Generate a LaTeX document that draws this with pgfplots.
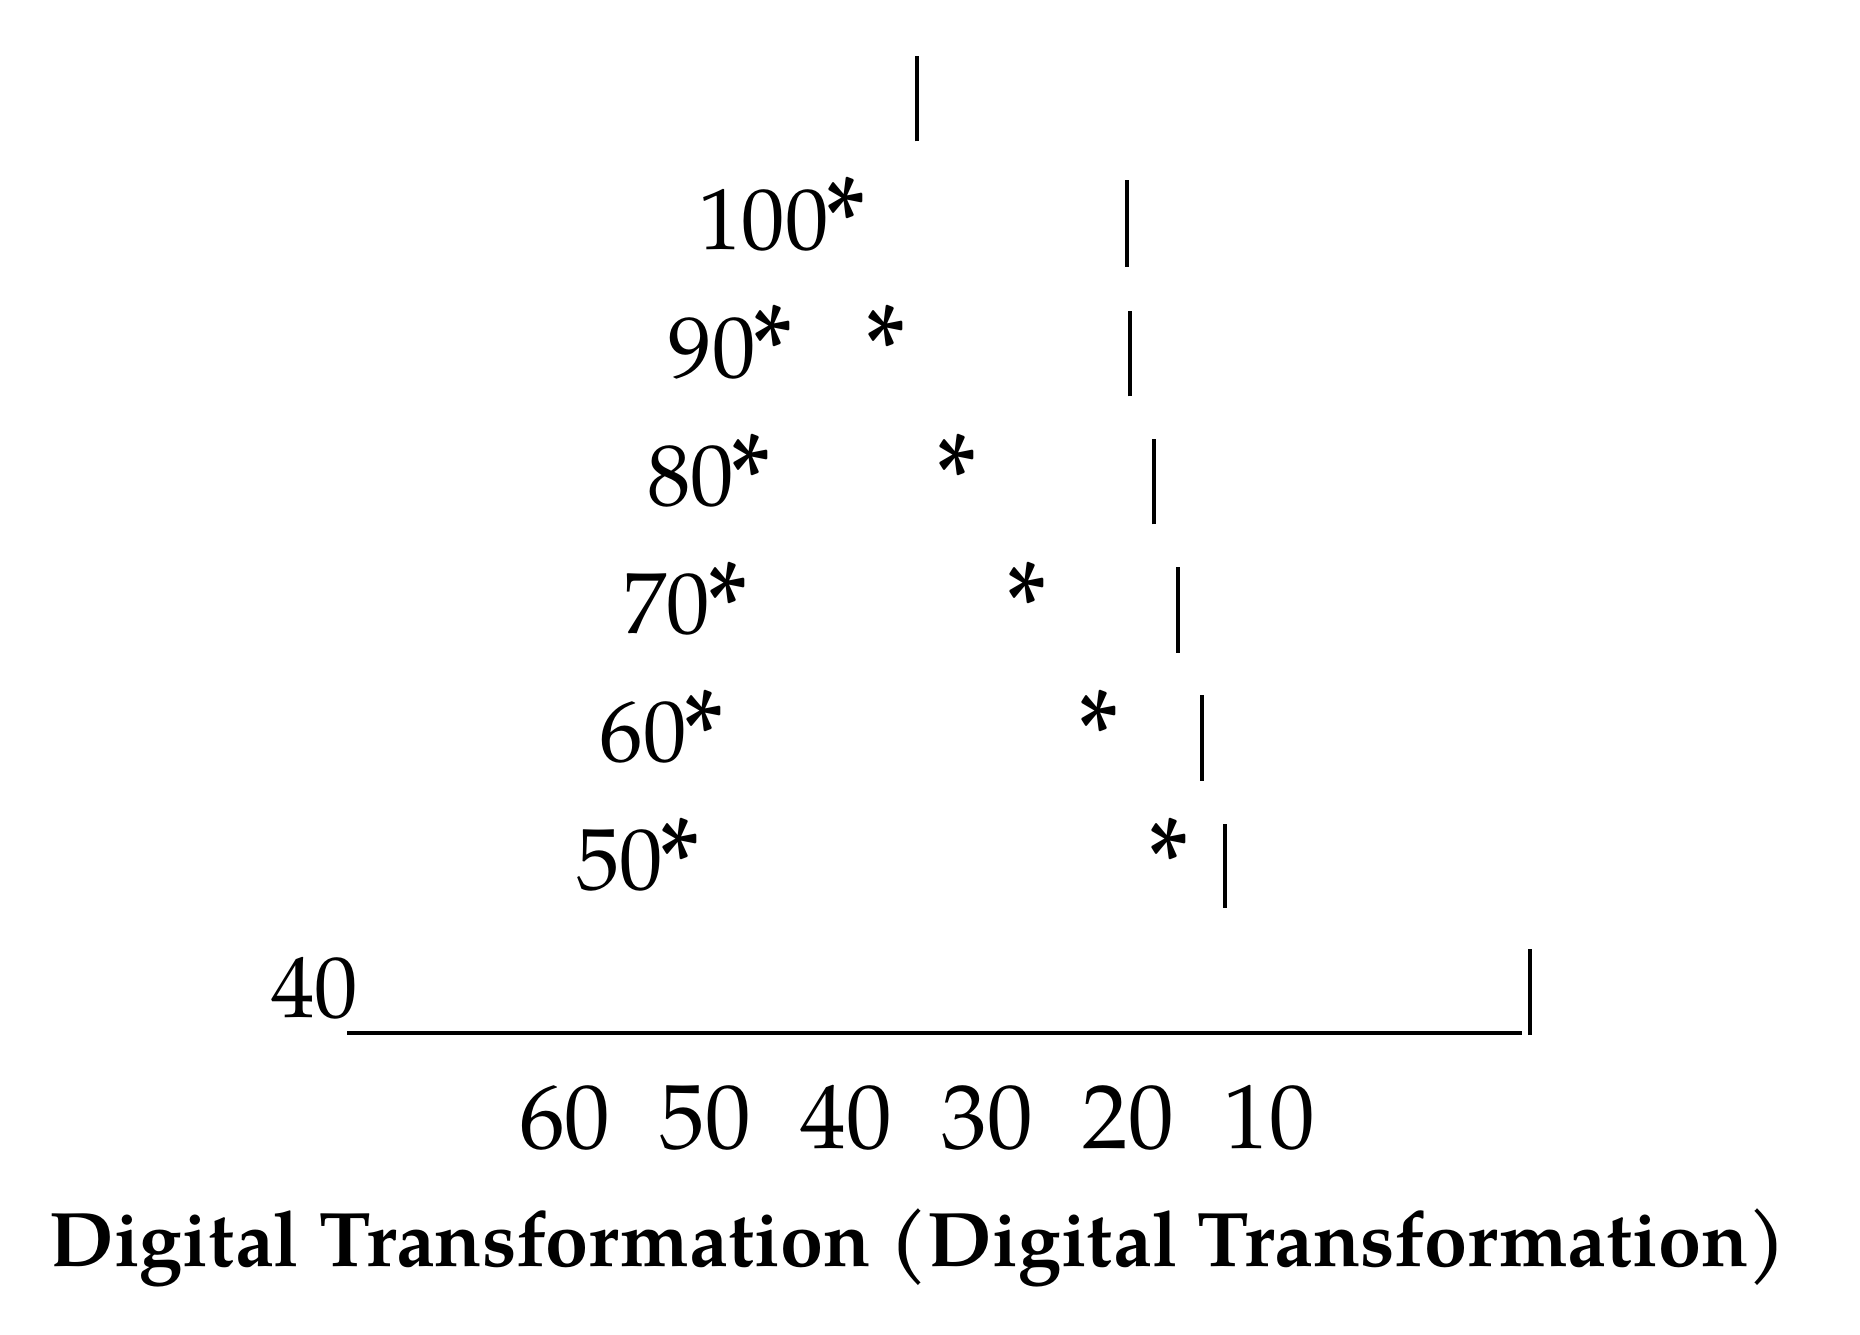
\documentclass[border=0pt]{standalone}
\usepackage{fontspec}
\setmainfont{TeX Gyre Pagella}
\usepackage{pgfplots}
\usepackage{pgfplotstable}
\pgfplotsset{compat=1.18}
\newcommand\rowfont{\fontsize{21.7}{26}\selectfont}
\newcommand\bigast{\raisebox{-3.2pt}{\scalebox{1.2}[1.4]{*}}}

% asterisks, one per row (x, row baseline)
\pgfplotstableread{
x y
37.2 90
32.2 80
27.2 70
22.1 60
17.1 50
}\stars

% vertical bars, nan = jump
\pgfplotstableread{
x y
35.0 108.4
35.0 115.1
nan nan
20.1 98.6
20.1 105.4
nan nan
19.85 88.5
19.85 95.2
nan nan
18.16 78.5
18.16 85.2
nan nan
16.48 68.5
16.48 75.2
nan nan
14.8 58.5
14.8 65.2
nan nan
13.11 48.6
13.11 55.1
nan nan
-8.52 38.64
-8.52 45.35
}\bars

\begin{document}
\begin{tikzpicture}
\begin{axis}[scale only axis,width=293.66pt,height=246.3pt,
 x dir=reverse,xmin=-7.93,xmax=75.44,ymin=38.82,ymax=115.74,
 axis x line=bottom,axis y line=none,
 x axis line style={-,line width=1.1pt},
 xtick={10,20,30,40,50,60},xticklabels={10,20,30,40,50,60},
 major tick length=0pt,tick style={draw=none},
 xticklabel style={anchor=base,yshift=-28.85pt,inner sep=0pt,font=\fontsize{22.8}{27}\selectfont},
 clip=false]
 \addplot[black,line width=1pt,unbounded coords=jump] table {\bars};
 \addplot[black,only marks,mark=text,text mark={\bigast},text mark as node=true,
   text mark style={anchor=base,inner sep=0pt,font=\rowfont}] table {\stars};
 \node[anchor=base west,inner sep=0pt,font=\rowfont] at (axis cs:50.57,100) {100\kern-0.8pt\bigast};
 \node[anchor=base west,inner sep=0pt,font=\rowfont] at (axis cs:52.68,90) {90\kern-0.8pt\bigast};
 \node[anchor=base west,inner sep=0pt,font=\rowfont] at (axis cs:54.19,80) {80\kern-0.8pt\bigast};
 \node[anchor=base west,inner sep=0pt,font=\rowfont] at (axis cs:55.88,70) {70\kern-0.8pt\bigast};
 \node[anchor=base west,inner sep=0pt,font=\rowfont] at (axis cs:57.56,60) {60\kern-0.8pt\bigast};
 \node[anchor=base west,inner sep=0pt,font=\rowfont] at (axis cs:59.24,50) {50\kern-0.8pt\bigast};
 \node[anchor=base west,inner sep=0pt,font=\rowfont] at (axis cs:80.88,40) {40};
 \node[anchor=base,inner sep=0pt,font=\bfseries\fontsize{19.35}{23}\selectfont] at (axis cs:34.92,20.56) {Digital Transformation (Digital Transformation)};
 \path (axis cs:100.07,119.44) rectangle (axis cs:-31.92,15.28);
\end{axis}
\end{tikzpicture}
\end{document}
